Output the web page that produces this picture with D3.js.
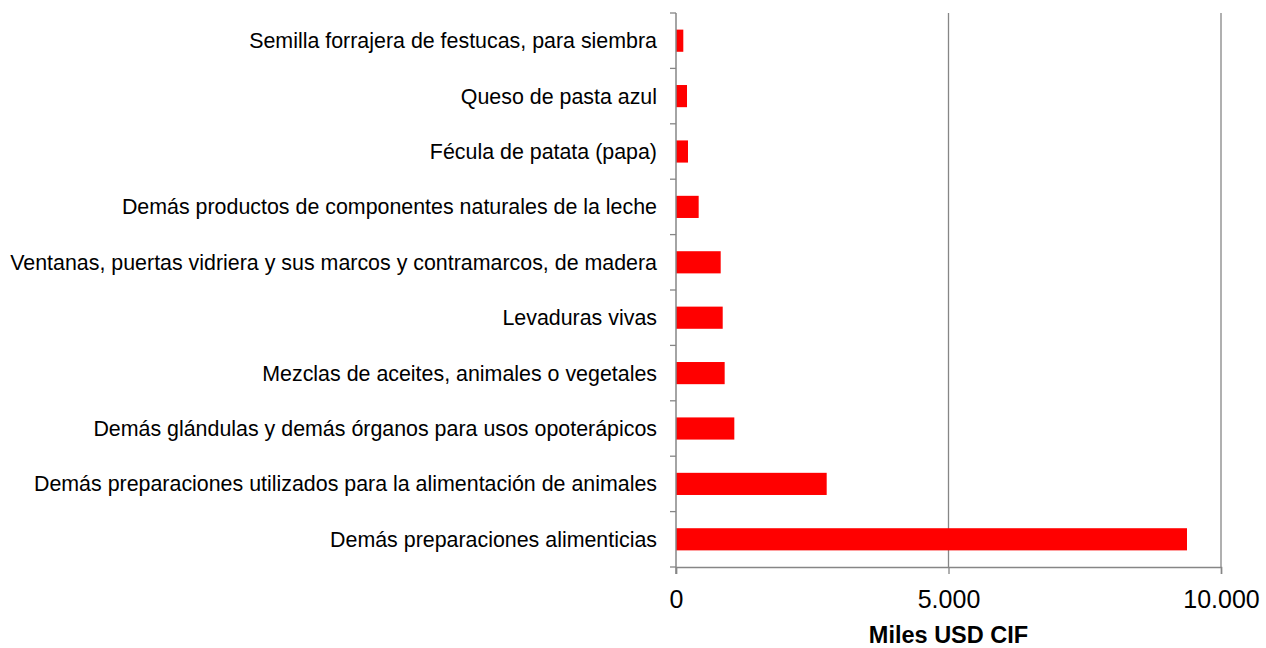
<!DOCTYPE html>
<html>
<head>
<meta charset="utf-8">
<style>
  body { margin: 0; background: #fff; }
  text { font-family: Arial, "Liberation Sans", sans-serif; }
</style>
</head>
<body>
<script src="https://d3js.org/d3.v7.min.js"></script>
<script>
// categories, top to bottom
var categories = [
  "Semilla forrajera de festucas, para siembra",
  "Queso de pasta azul",
  "Fécula de patata (papa)",
  "Demás productos de componentes naturales de la leche",
  "Ventanas, puertas vidriera y sus marcos y contramarcos, de madera",
  "Levaduras vivas",
  "Mezclas de aceites, animales o vegetales",
  "Demás glándulas y demás órganos para usos opoterápicos",
  "Demás preparaciones utilizados para la alimentación de animales",
  "Demás preparaciones alimenticias"
];
// miles USD CIF
var values = [134, 202, 220, 416, 820, 857, 893, 1070, 2765, 9376];
var xTicks = [0, 5000, 10000];
var xTitle = "Miles USD CIF";

var W = 1266, H = 648;
var plotLeft = 676, plotRight = 1221, plotTop = 13, plotBottom = 567;

var svg = d3.select("body").append("svg")
    .attr("width", W)
    .attr("height", H);

var x = d3.scaleLinear().domain([0, 10000]).range([plotLeft, plotRight]);
var y = d3.scaleBand().domain(categories).range([plotTop, plotBottom])
    .paddingInner(0.6).paddingOuter(0.3);

var gray = "#868686";

// vertical gridlines
svg.selectAll("line.grid")
    .data(xTicks.slice(1))
    .enter().append("line")
    .attr("class", "grid")
    .attr("x1", function(d) { return x(d); })
    .attr("x2", function(d) { return x(d); })
    .attr("y1", plotTop)
    .attr("y2", plotBottom)
    .attr("stroke", gray)
    .attr("stroke-width", 1.3);

// bars
svg.selectAll("rect.bar")
    .data(values)
    .enter().append("rect")
    .attr("class", "bar")
    .attr("x", x(0))
    .attr("y", function(d, i) { return y(categories[i]); })
    .attr("width", function(d) { return x(d) - x(0); })
    .attr("height", y.bandwidth())
    .attr("fill", "#ff0000");

// x axis
var xAxis = svg.append("g")
    .attr("transform", "translate(0," + plotBottom + ")")
    .call(d3.axisBottom(x).tickValues(xTicks).tickSize(7).tickPadding(16)
        .tickFormat(function(d) { return d3.format(",")(d).replace(/,/g, "."); }));
xAxis.select(".domain").attr("stroke", gray).attr("stroke-width", 1.5);
xAxis.selectAll(".tick line").attr("stroke", gray).attr("stroke-width", 1.3);
xAxis.selectAll(".tick text")
    .attr("fill", "#000")
    .style("font-size", "25px")
    .style("font-family", "Arial, 'Liberation Sans', sans-serif");

// y axis line with ticks at band boundaries
var bounds = d3.range(categories.length + 1).map(function(i) {
    return plotTop + i * (plotBottom - plotTop) / categories.length;
});
svg.selectAll("line.ytick")
    .data(bounds)
    .enter().append("line")
    .attr("class", "ytick")
    .attr("x1", plotLeft - 6)
    .attr("x2", plotLeft)
    .attr("y1", function(d) { return d; })
    .attr("y2", function(d) { return d; })
    .attr("stroke", gray)
    .attr("stroke-width", 1.3);

svg.append("line")
    .attr("x1", plotLeft).attr("x2", plotLeft)
    .attr("y1", plotTop).attr("y2", plotBottom + 7)
    .attr("stroke", gray)
    .attr("stroke-width", 1.5);

// category labels
svg.selectAll("text.cat")
    .data(categories)
    .enter().append("text")
    .attr("class", "cat")
    .attr("x", plotLeft - 19)
    .attr("y", function(d) { return y(d) + y.bandwidth() / 2; })
    .attr("dy", "0.35em")
    .attr("text-anchor", "end")
    .style("font-size", "21.4px")
    .attr("fill", "#000")
    .text(function(d) { return d; });

// axis title
svg.append("text")
    .attr("x", (plotLeft + plotRight) / 2)
    .attr("y", 643)
    .attr("text-anchor", "middle")
    .style("font-size", "23.5px")
    .style("font-weight", "bold")
    .attr("fill", "#000")
    .text(xTitle);
</script>
</body>
</html>
